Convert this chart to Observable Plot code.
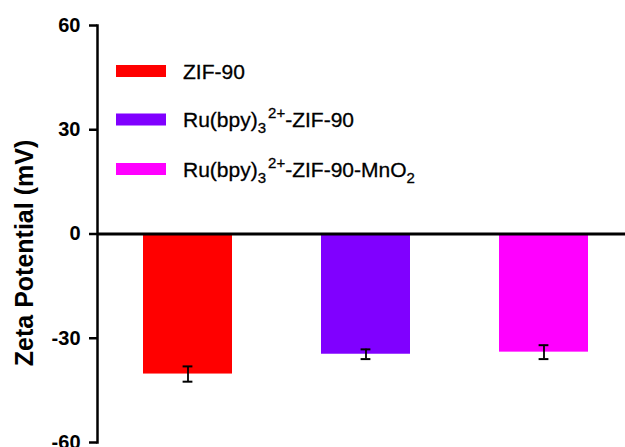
<!DOCTYPE html>
<html><head><meta charset="utf-8">
<script src="https://cdn.jsdelivr.net/npm/d3@7"></script>
<script src="https://cdn.jsdelivr.net/npm/@observablehq/plot@0.6"></script>
<style>
body{margin:0;background:#fff}
svg{font-family:"Liberation Sans",Arial,sans-serif}
</style>
</head><body><div id="chart"></div>
<script>
// ---- data ----
const categories = ["ZIF-90", "Ru(bpy)3 2+-ZIF-90", "Ru(bpy)3 2+-ZIF-90-MnO2"];
const values = [-40.3, -34.6, -34.0];
const errors = [2.2, 1.4, 2.0];
const colors = ["#ff0000", "#8000ff", "#ff00ff"];
const yTicks = [-60, -30, 0, 30, 60];
const yLabel = "Zeta Potential (mV)";
// legend labels as [text, kind] parts
const legendParts = [
  [["ZIF-90", "n"]],
  [["Ru(bpy)", "n"], ["3", "sub"], ["2+", "sup"], ["-ZIF-90", "n"]],
  [["Ru(bpy)", "n"], ["3", "sub"], ["2+", "sup"], ["-ZIF-90-MnO", "n"], ["2", "sub"]]
];

const data = categories.map((c, i) => ({c, v: values[i], e: errors[i]}));

const plot = Plot.plot({
  width: 625, height: 447,
  marginLeft: 97, marginTop: 25, marginBottom: 5, marginRight: 0,
  style: {fontFamily: '"Liberation Sans", Arial, sans-serif', background: "white", overflow: "visible"},
  x: {domain: categories, range: [98, 633], paddingInner: 0.5, paddingOuter: 0.25, axis: null},
  y: {domain: [-60, 60], ticks: yTicks, label: null},
  color: {domain: categories, range: colors},
  marks: [
    Plot.barY(data, {x: "c", y: "v", fill: "c"}),
    Plot.ruleX(data, {x: "c", y1: d => d.v - d.e, y2: d => d.v + d.e, stroke: "black", strokeWidth: 1.8}),
    Plot.tickY(data, {x: "c", y: d => d.v - d.e, insetLeft: 39.6, insetRight: 39.6, stroke: "black", strokeWidth: 2}),
    Plot.tickY(data, {x: "c", y: d => d.v + d.e, insetLeft: 39.6, insetRight: 39.6, stroke: "black", strokeWidth: 2}),
    Plot.ruleY([0], {stroke: "black", strokeWidth: 3}),
    Plot.frame({anchor: "left", stroke: "black", strokeWidth: 2.5}),
    Plot.axisY({ticks: yTicks, tickSize: 8, tickPadding: 9, fontSize: 20, fontWeight: "bold", strokeWidth: 2.5, label: null, tickFormat: d => String(d)}),
    Plot.text([yLabel], {frameAnchor: "left", dx: -73, dy: 19, rotate: -90, textAnchor: "middle", fontSize: 25, fontWeight: "bold", fill: "black"})
  ]
});
document.getElementById("chart").appendChild(plot);

// ---- legend ----
const svg = d3.select(plot);
const lg = svg.append("g").attr("text-anchor", "start");
const rowY = [71, 119.5, 169];
categories.forEach((c, i) => {
  lg.append("rect").attr("x", 116).attr("y", rowY[i] - 6).attr("width", 50).attr("height", 12).attr("fill", colors[i]);
  const t = lg.append("text").attr("x", 183).attr("y", rowY[i] + 7.5)
    .attr("text-anchor", "start").attr("font-size", 21).attr("fill", "black")
    .attr("stroke", "black").attr("stroke-width", 0.3);
  let cur = 0;
  legendParts[i].forEach(([s, k]) => {
    const target = k === "sub" ? 6 : k === "sup" ? -9 : 0;
    const sp = t.append("tspan").attr("dy", target - cur).text(s);
    if (k !== "n") sp.attr("font-size", 15);
    if (k === "sup") sp.attr("dx", 2);
    cur = target;
  });
});
</script>
</body></html>
